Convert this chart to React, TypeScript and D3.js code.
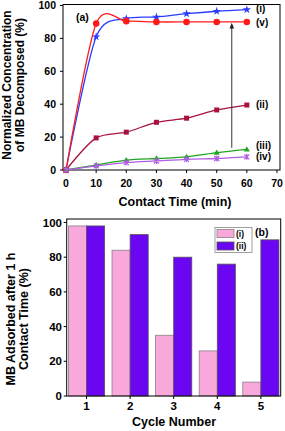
import React from 'react';
import * as d3 from 'd3';

// Panel (a): contact time (min) vs normalized concentration decomposed (%)
const times = [0, 10, 20, 30, 40, 50, 60];
const seriesI = [0, 81, 92, 93, 95, 96.5, 97.5];
const seriesV = [0, 89, 90.5, 90, 90, 90, 90];
const seriesII = [0, 19.5, 23, 29, 31.5, 36.5, 39.5];
const seriesIII = [0, 3, 6, 7, 8, 10.5, 12.5];
const seriesIV = [0, 2.5, 4.5, 5.5, 6.5, 7, 8];
const xTicksA = [0, 10, 20, 30, 40, 50, 60, 70];
const yTicks = [0, 20, 40, 60, 80, 100];

// Panel (b): MB adsorbed after 1 h per cycle
const cycles = ['1', '2', '3', '4', '5'];
const barsI = [98, 84, 35, 26, 8];
const barsII = [98, 93, 80, 76, 90];

const FONT = '"Liberation Sans", Arial, sans-serif';

const lineSeries = [
  { key: 'i', values: seriesI, color: '#2a3cff', marker: 'star', label: '(i)' },
  { key: 'v', values: seriesV, color: '#ff1a1a', marker: 'circle', label: '(v)' },
  { key: 'ii', values: seriesII, color: '#a8123c', marker: 'square', label: '(ii)' },
  { key: 'iii', values: seriesIII, color: '#1fa51f', marker: 'triangle', label: '(iii)' },
  { key: 'iv', values: seriesIV, color: '#b35ce6', marker: 'cross', label: '(iv)' },
];

function Marker({ type, x, y, color }: { type: string; x: number; y: number; color: string }) {
  if (type === 'circle') return <circle cx={x} cy={y} r={3.3} fill={color} />;
  if (type === 'square') return <rect x={x - 2.5} y={y - 2.5} width={5} height={5} fill={color} />;
  if (type === 'triangle')
    return <path d={`M${x},${y - 3.2} L${x + 3},${y + 2} L${x - 3},${y + 2} Z`} fill={color} />;
  if (type === 'cross')
    return (
      <path
        d={`M${x - 2.5},${y - 2.5} L${x + 2.5},${y + 2.5} M${x - 2.5},${y + 2.5} L${x + 2.5},${y - 2.5} M${x},${y - 3} L${x},${y + 3}`}
        stroke={color}
        strokeWidth={1.2}
      />
    );
  // star / diamond-ish
  return <path d={d3.symbol(d3.symbolStar, 22)() || ''} transform={`translate(${x},${y})`} fill={color} />;
}

function PanelA() {
  const x = d3.scaleLinear().domain([-1, 71]).range([63, 280]);
  const y = d3.scaleLinear().domain([0, 100]).range([170, 5.5]);
  const line = d3
    .line<number>()
    .x((_, i) => x(times[i]))
    .y((d) => y(d))
    .curve(d3.curveCardinal.tension(0.15));

  const labelY: Record<string, number> = { i: 8.5, v: 22, ii: 104, iii: 145, iv: 156 };

  return (
    <g fontFamily={FONT} fontWeight="bold">
      {/* frame */}
      <rect x={63} y={4.5} width={217} height={165.5} fill="none" stroke="#000" strokeWidth={1} />
      {yTicks.map((t) => (
        <g key={t}>
          <line x1={60} x2={63} y1={y(t)} y2={y(t)} stroke="#000" />
          <text x={56} y={y(t)} dy="0.36em" textAnchor="end" fontSize={10.5}>
            {t}
          </text>
        </g>
      ))}
      {xTicksA.map((t) => (
        <g key={t}>
          <line x1={x(t)} x2={x(t)} y1={170} y2={173} stroke="#000" />
          <text x={x(t)} y={187} textAnchor="middle" fontSize={10.5}>
            {t}
          </text>
        </g>
      ))}
      {lineSeries.map((s) => (
        <g key={s.key}>
          <path d={line(s.values) || ''} fill="none" stroke={s.color} strokeWidth={1.3} />
          {s.values.map((v, i) => (
            <Marker key={i} type={s.marker} x={x(times[i])} y={y(v)} color={s.color} />
          ))}
          <text x={256} y={labelY[s.key]} dy="0.36em" fontSize={10}>
            {s.label}
          </text>
        </g>
      ))}
      {/* arrow */}
      <line x1={x(55)} x2={x(55)} y1={y(13.5)} y2={y(87)} stroke="#333" strokeWidth={1} />
      <path
        d={`M${x(55)},${y(89.5)} L${x(55) + 2.3},${y(86)} L${x(55) - 2.3},${y(86)} Z`}
        fill="#222"
      />
      <text x={76} y={17} dy="0.36em" fontSize={10.5}>
        (a)
      </text>
      <text x={175} y={206} textAnchor="middle" fontSize={12.5}>
        Contact  Time (min)
      </text>
      <g transform="translate(11,85) rotate(-90)">
        <text x={0} y={0} textAnchor="middle" fontSize={12}>
          Normalized Concentration
        </text>
        <text x={0} y={12.5} textAnchor="middle" fontSize={12}>
          of MB Decomposed  (%)
        </text>
      </g>
    </g>
  );
}

function PanelB() {
  const x = d3.scaleBand().domain(cycles).range([66.7, 280.7]).paddingInner(0.17).paddingOuter(0.04);
  const y = d3.scaleLinear().domain([0, 102]).range([396, 219]);
  const bw = x.bandwidth() / 2;

  return (
    <g fontFamily={FONT} fontWeight="bold">
      {cycles.map((c, i) => (
        <g key={c}>
          <rect
            x={x(c)!}
            y={y(barsI[i])}
            width={bw}
            height={396 - y(barsI[i])}
            fill="#f9a8dc"
            stroke="#8a7f88"
            strokeWidth={0.8}
          />
          <rect
            x={x(c)! + bw}
            y={y(barsII[i])}
            width={bw}
            height={396 - y(barsII[i])}
            fill="#6a06f2"
            stroke="#555"
            strokeWidth={0.8}
          />
        </g>
      ))}
      <rect x={66.7} y={219} width={214} height={177} fill="none" stroke="#000" strokeWidth={1} />
      {yTicks.map((t) => (
        <g key={t}>
          <line x1={63.7} x2={66.7} y1={y(t)} y2={y(t)} stroke="#000" />
          <text x={62} y={y(t)} dy="0.36em" textAnchor="end" fontSize={11.5}>
            {t}
          </text>
        </g>
      ))}
      {cycles.map((c) => {
        const cx = x(c)! + x.bandwidth() / 2;
        return (
          <g key={c}>
            <line x1={cx} x2={cx} y1={396} y2={399} stroke="#000" />
            <text x={cx} y={410} textAnchor="middle" fontSize={11.5}>
              {c}
            </text>
          </g>
        );
      })}
      {/* legend */}
      <rect x={215} y={227.5} width={37} height={25} fill="#fff" stroke="#888" strokeWidth={0.8} />
      <rect x={217} y={229.5} width={17} height={8} fill="#f9a8dc" stroke="#8a7f88" strokeWidth={0.8} />
      <rect x={217} y={242} width={17} height={8} fill="#6a06f2" stroke="#555" strokeWidth={0.8} />
      <text x={236} y={233.5} dy="0.36em" fontSize={8.5}>
        (i)
      </text>
      <text x={236} y={246} dy="0.36em" fontSize={8.5}>
        (ii)
      </text>
      <text x={255} y={232} dy="0.36em" fontSize={10.5}>
        (b)
      </text>
      <text x={174} y={426} textAnchor="middle" fontSize={12.5}>
        Cycle Number
      </text>
      <g transform="translate(14.5,319) rotate(-90)">
        <text x={0} y={0} textAnchor="middle" fontSize={12.5}>
          MB Adsorbed after 1 h
        </text>
        <text x={0} y={13} textAnchor="middle" fontSize={12.5}>
          Contact Time (%)
        </text>
      </g>
    </g>
  );
}

export default function App() {
  return (
    <svg
      width={285}
      height={431}
      style={{ position: 'absolute', left: 0, top: 0, background: '#fff' }}
    >
      <PanelA />
      <PanelB />
    </svg>
  );
}
